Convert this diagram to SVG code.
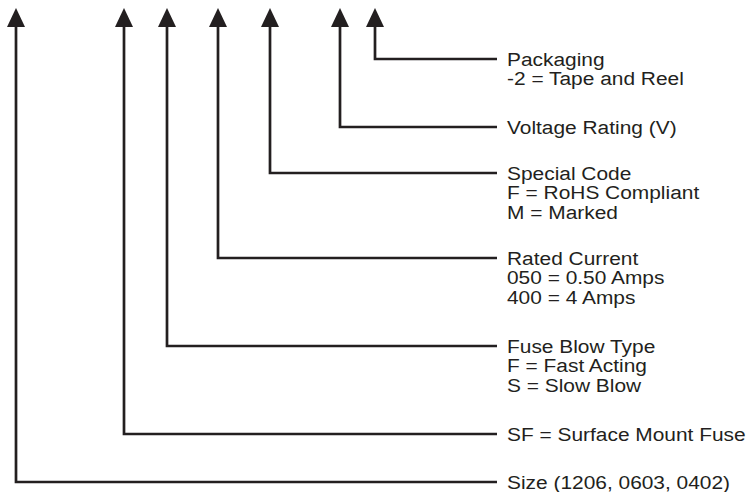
<svg xmlns="http://www.w3.org/2000/svg" width="753" height="492" viewBox="0 0 753 492">
<style>
.c{fill:none;stroke:#231f20;stroke-width:2.7;stroke-linejoin:miter;stroke-linecap:butt}
.t{font-family:"Liberation Sans",Arial,sans-serif;font-size:19px;fill:#231f20}
</style>
<defs>
<marker id="ah" markerUnits="userSpaceOnUse" markerWidth="20" markerHeight="20" viewBox="0 -10 20 20" refX="0" refY="0" orient="auto-start-reverse">
<path d="M0,-9 L19,0 L0,9 z" fill="#231f20"/>
</marker>
</defs>
<rect width="753" height="492" fill="#fff"/>
<g id="connectors">
<path class="c" marker-start="url(#ah)" d="M16,27 V482 H497"/>
<path class="c" marker-start="url(#ah)" d="M124,27 V434 H497"/>
<path class="c" marker-start="url(#ah)" d="M167,27 V346 H497"/>
<path class="c" marker-start="url(#ah)" d="M218,27 V258 H497"/>
<path class="c" marker-start="url(#ah)" d="M270,27 V173 H497"/>
<path class="c" marker-start="url(#ah)" d="M340,27 V127 H497"/>
<path class="c" marker-start="url(#ah)" d="M375,27 V59 H497"/>
</g>
<g id="packaging" transform="translate(507,0) scale(1.1,1)">
<text class="t" x="0" y="65.8">Packaging</text>
<text class="t" x="0" y="85.3">-2 = Tape and Reel</text>
</g>
<g id="voltage" transform="translate(507,0) scale(1.1,1)">
<text class="t" x="0" y="133.8">Voltage Rating (V)</text>
</g>
<g id="special" transform="translate(507,0) scale(1.1,1)">
<text class="t" x="0" y="179.8">Special Code</text>
<text class="t" x="0" y="199.3">F = RoHS Compliant</text>
<text class="t" x="0" y="218.8">M = Marked</text>
</g>
<g id="current" transform="translate(507,0) scale(1.1,1)">
<text class="t" x="0" y="264.8">Rated Current</text>
<text class="t" x="0" y="284.3">050 = 0.50 Amps</text>
<text class="t" x="0" y="303.8">400 = 4 Amps</text>
</g>
<g id="blowtype" transform="translate(507,0) scale(1.1,1)">
<text class="t" x="0" y="352.8">Fuse Blow Type</text>
<text class="t" x="0" y="372.3">F = Fast Acting</text>
<text class="t" x="0" y="391.8">S = Slow Blow</text>
</g>
<g id="series" transform="translate(507,0) scale(1.1,1)">
<text class="t" x="0" y="440.8">SF = Surface Mount Fuse</text>
</g>
<g id="size" transform="translate(507,0) scale(1.1,1)">
<text class="t" x="0" y="488.8">Size (1206, 0603, 0402)</text>
</g>
</svg>
